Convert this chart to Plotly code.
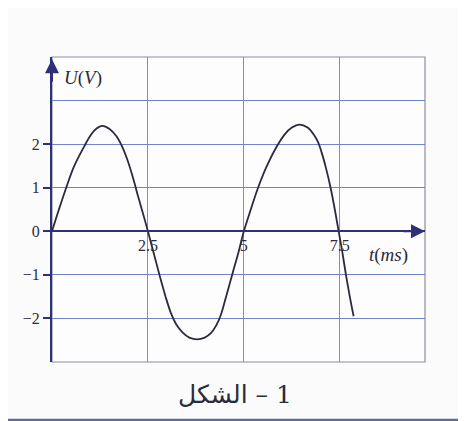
"""Sinusoidal voltage U(t) - textbook figure (الشكل - 1)."""

import plotly.graph_objects as go

# Points: time in ms, voltage in V
t_ms = [0.0, 0.18, 0.37, 0.58, 0.84, 1.02, 1.16, 1.30, 1.50, 1.68, 1.84, 1.98, 2.12, 2.25, 2.38,
        2.50, 2.65, 2.80, 2.96, 3.10, 3.24, 3.40, 3.58, 3.78, 3.98, 4.14, 4.28, 4.40, 4.50,
        4.60, 4.71, 4.86, 5.00, 5.18, 5.37, 5.60, 5.86, 6.06, 6.25, 6.45, 6.66, 6.82, 6.93,
        7.03, 7.14, 7.26, 7.37, 7.47, 7.57, 7.66, 7.76, 7.86]
u_volt = [0.0, 0.5, 1.0, 1.5, 1.95, 2.22, 2.36, 2.42, 2.35, 2.18, 1.92, 1.6, 1.2, 0.78, 0.38,
          0.0, -0.5, -1.0, -1.5, -1.88, -2.14, -2.32, -2.44, -2.48, -2.44, -2.34, -2.16, -1.92, -1.62,
          -1.3, -0.95, -0.48, 0.0, 0.5, 1.0, 1.5, 1.95, 2.22, 2.38, 2.45, 2.38, 2.22, 2.05,
          1.8, 1.45, 1.0, 0.5, 0.0, -0.5, -1.0, -1.5, -1.95]

x_ticks = [2.5, 5, 7.5]
x_tick_text = ["2.5", "5", "7.5"]
y_ticks = [-2, -1, 0, 1, 2]
y_tick_text = ["−2", "−1", "0", "1", "2"]

x_range = [0, 9.72]
y_range = [-3, 4]

SERIF = "Liberation Serif, DejaVu Serif, serif"
INK = "#2a2b3c"
AXIS = "#2e3178"
HGRID = "#6f83cf"
VGRID = "#8d909c"

fig = go.Figure()

fig.add_trace(go.Scatter(
    x=t_ms,
    y=u_volt,
    mode="lines",
    line=dict(color=INK, width=1.8, shape="spline", smoothing=1.0),
    hoverinfo="skip",
    showlegend=False
))

# the page body adds an 8px margin, so the figure is 8px smaller each way
fig.update_layout(
    width=458,
    height=413,
    margin=dict(l=44, r=41, t=49, b=59, autoexpand=False),
    paper_bgcolor="#fbfbfc",
    plot_bgcolor="#fdfdfd",
    font=dict(family=SERIF, color=INK, size=16),
    showlegend=False,
    xaxis=dict(
        range=x_range,
        tickvals=x_ticks,
        ticktext=x_tick_text,
        ticks="",
        showgrid=True,
        gridcolor=VGRID,
        gridwidth=1,
        zeroline=False,
        showline=True,
        linecolor=AXIS,
        linewidth=2,
        anchor="free",
        position=3 / 7,
        automargin=False,
        tickfont=dict(size=16),
    ),
    yaxis=dict(
        range=y_range,
        tickvals=y_ticks,
        ticktext=y_tick_text,
        ticks="outside",
        ticklen=7,
        tickcolor=AXIS,
        tickwidth=2,
        showgrid=True,
        gridcolor=HGRID,
        gridwidth=1,
        minor=dict(dtick=1, tick0=0, showgrid=True, gridcolor=HGRID, gridwidth=1),
        zeroline=False,
        showline=True,
        linecolor=AXIS,
        linewidth=2,
        automargin=False,
        tickfont=dict(size=16),
    ),
)

# Plot frame
fig.add_shape(type="rect", xref="paper", yref="paper", x0=0, x1=1, y0=0, y1=1,
              line=dict(color=VGRID, width=1.2), layer="below")

# Bottom edge of the scanned page
fig.add_shape(type="rect", xref="paper", yref="paper", x0=-0.2, x1=1.2, y0=-0.2, y1=-0.186,
              line=dict(width=0), fillcolor="#5d6c92")

# Axis arrowheads
fig.add_annotation(x=x_range[1], y=0, ax=x_range[1] - 0.6, ay=0, xref="x", yref="y",
                   axref="x", ayref="y", text="", showarrow=True, arrowhead=2,
                   arrowsize=1.4, arrowwidth=2, arrowcolor=AXIS)
fig.add_annotation(x=0, y=y_range[1] - 0.05, ax=0, ay=y_range[1] - 0.6, xref="x", yref="y",
                   axref="x", ayref="y", text="", showarrow=True, arrowhead=2,
                   arrowsize=1.4, arrowwidth=2, arrowcolor=AXIS)

# Axis titles
fig.add_annotation(x=0.027, y=0.931, xref="paper", yref="paper", text="<i>U</i>(<i>V</i>)",
                   showarrow=False, xanchor="left", yanchor="middle",
                   font=dict(family=SERIF, size=19, color=INK))
fig.add_annotation(x=8.78, y=-0.55, xref="x", yref="y", text="<i>t</i>(<i>ms</i>)",
                   showarrow=False, xanchor="center", yanchor="middle",
                   font=dict(family=SERIF, size=19, color=INK))

# Caption: LRM after the word stops the digit joining the Arabic run
fig.add_annotation(x=0.49, y=-0.108, xref="paper", yref="paper", text="الشكل\u200e – 1",
                   showarrow=False, xanchor="center", yanchor="middle",
                   font=dict(family="DejaVu Serif, DejaVu Sans, serif", size=25, color=INK))

fig.write_html("out.html")
